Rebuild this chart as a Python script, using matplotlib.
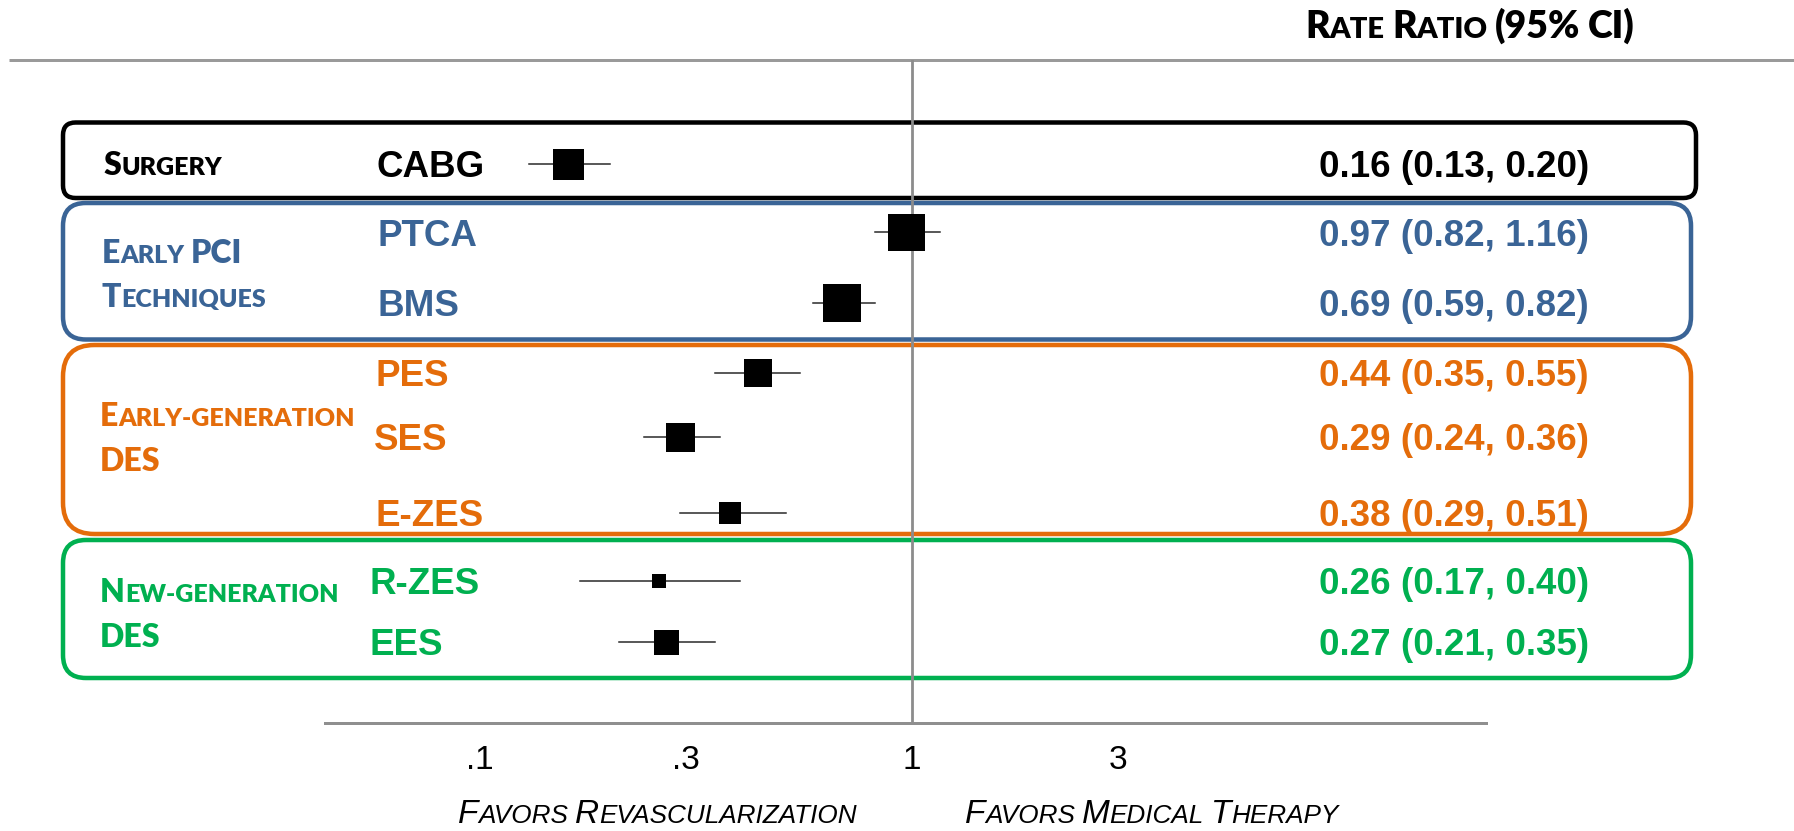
import matplotlib
matplotlib.use("Agg")
import matplotlib.pyplot as plt
from matplotlib.patches import FancyBboxPatch

# data
treatments = ["CABG", "PTCA", "BMS", "PES", "SES", "E-ZES", "R-ZES", "EES"]
rate_ratio = [0.16, 0.97, 0.69, 0.44, 0.29, 0.38, 0.26, 0.27]
ci_low = [0.13, 0.82, 0.59, 0.35, 0.24, 0.29, 0.17, 0.21]
ci_high = [0.20, 1.16, 0.82, 0.55, 0.36, 0.51, 0.40, 0.35]
weight_px = [31, 37, 38, 28, 29, 23, 14, 25]  # square side in pixels

group_lines = [["Surgery"], ["Early PCI", "Techniques"],
               ["Early-generation", "DES"], ["New-generation", "DES"]]
group_size = [1, 2, 3, 2]
group_colors = ["#000000", "#3A6496", "#E46C0A", "#00B050"]

tick_vals = [0.1, 0.3, 1, 3]
tick_labels = [".1", ".3", "1", "3"]

# layout (pixel coordinates of the 1794x831 canvas, y downwards)
W, H = 1794, 831
row_y = [163.5, 232, 302.5, 373, 437, 512.5, 581, 641.5]
box_y = [(122.5, 198), (203, 339.5), (345, 534), (540, 678)]
box_right = [1696, 1691, 1691, 1691]
label_base = [[175], [263, 307], [426, 471], [602, 647]]
label_x = [104, 102, 100, 100]
name_x = [377, 377, 377, 376, 374, 376, 370, 370]
axis_y, top_y = 722.5, 60
x_one, px_decade = 912, 432
axis_left, axis_right = 325, 1486

PX = 72 / 100  # points per pixel
cap_font = ["Lato", "DejaVu Sans"]
arial = ["Liberation Sans", "DejaVu Sans"]

fig = plt.figure(figsize=(W / 100, H / 100), dpi=100)
bg = fig.add_axes([0, 0, 1, 1])
bg.set_xlim(0, W)
bg.set_ylim(H, 0)
bg.axis("off")
renderer = fig.canvas.get_renderer()


def small_caps(ax, x, y, s, big, small, color, family, **kw):
    # fake small caps: capitals/digits big, lower case letters as small capitals
    inv = ax.transData.inverted()
    words = s.split(" ")
    for wi, word in enumerate(words):
        runs = []
        for ch in word:
            sz = small if (ch.islower() or ch == "-") else big
            if runs and runs[-1][1] == sz:
                runs[-1][0] += ch
            else:
                runs.append([ch, sz])
        for txt, sz in runs:
            t = ax.text(x, y, txt.upper(), fontsize=sz, color=color, va="baseline",
                        ha="left", family=family, **kw)
            bb = t.get_window_extent(renderer)
            x = inv.transform((bb.x1, bb.y0))[0]
        if wi < len(words) - 1:
            x += big / PX * 0.2


# header rule and title
bg.plot([9, W], [top_y, top_y], color="#9a9a9a", lw=3 * PX, solid_capstyle="butt")
small_caps(bg, 1305, 38, "Rate Ratio (95% CI)", 27, 21, "black", cap_font, fontweight="heavy")

# group boxes and labels
start = 0
for g, (lines, n, col) in enumerate(zip(group_lines, group_size, group_colors)):
    y0, y1 = box_y[g]
    h = y1 - y0
    box = FancyBboxPatch((63, y0), box_right[g] - 63, h,
                         boxstyle=f"round,pad=0,rounding_size={h * 0.1667:.1f}",
                         fill=False, ec=col, lw=4.5 * PX, zorder=2)
    bg.add_patch(box)
    for line, yb in zip(lines, label_base[g]):
        small_caps(bg, label_x[g], yb, line, 23, 18, col, cap_font, fontweight="heavy")
    for i in range(start, start + n):
        yb = row_y[i] + 13.5
        bg.text(name_x[i], yb, treatments[i], fontsize=26.5, fontweight="bold",
                color=col, va="baseline", family=arial)
        bg.text(1319, yb, f"{rate_ratio[i]:.2f} ({ci_low[i]:.2f}, {ci_high[i]:.2f})",
                fontsize=26.5, fontweight="bold", color=col, va="baseline", family=arial)
    start += n

# forest plot axes on a log scale
ax = fig.add_axes([axis_left / W, (H - axis_y) / H,
                   (axis_right - axis_left) / W, (axis_y - top_y) / H])
ax.set_facecolor("none")
ax.set_xscale("log")
ax.set_xlim(10 ** ((axis_left - x_one) / px_decade), 10 ** ((axis_right - x_one) / px_decade))
ax.set_ylim(axis_y, top_y)
for side in ["top", "left", "right"]:
    ax.spines[side].set_visible(False)
ax.spines["bottom"].set_color("#8f8f8f")
ax.spines["bottom"].set_linewidth(3 * PX)
ax.set_yticks([])
ax.set_xticks(tick_vals)
ax.set_xticklabels(tick_labels)
ax.xaxis.set_minor_locator(matplotlib.ticker.NullLocator())
ax.tick_params(axis="x", length=0, pad=16, labelsize=24)
for lab in ax.get_xticklabels():
    lab.set_family(arial)

ax.axvline(1, color="#8c8c8c", lw=2.0, zorder=1)
for i in range(len(treatments)):
    ax.plot([ci_low[i], ci_high[i]], [row_y[i], row_y[i]], color="#2a2a2a", lw=1.1, zorder=2)
    ax.plot(rate_ratio[i], row_y[i], marker="s", ms=weight_px[i] * PX, color="black",
            mew=0, zorder=3)

# direction labels
small_caps(bg, 458, 823, "Favors Revascularization", 24, 18.8, "black", arial, style="italic")
small_caps(bg, 965, 823, "Favors Medical Therapy", 24, 18.8, "black", arial, style="italic")

fig.savefig("out.png", dpi=100)
